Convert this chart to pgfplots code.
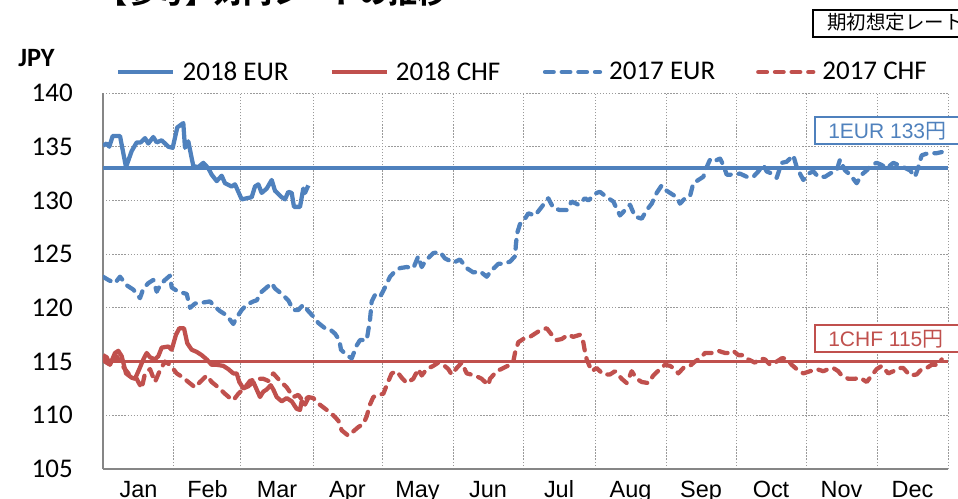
\documentclass[border=0pt]{standalone}
\usepackage{pgfplots}
\pgfplotsset{compat=1.18}
\usepackage{pgfplotstable}
\usepackage{fontspec}
\setmainfont{Carlito}
\newfontfamily\arialf{Liberation Sans}
\newfontfamily\jp{Noto Sans CJK JP}
\definecolor{eurblue}{HTML}{4F81BD}
\definecolor{chfred}{HTML}{C0504D}
\definecolor{axgray}{HTML}{868686}
\definecolor{gridgray}{HTML}{9A9A9A}

% x = horizontal position in the chart (pixels of the reference), y = JPY
\pgfplotstableread{
x y
103 135.1
106.7 135.3
109.3 135.0
112.7 136.0
120.0 136.0
126.0 133.1
131.7 134.6
136.7 135.4
140.7 135.4
145.0 135.8
148.3 135.3
153.3 135.9
156.7 135.4
161.7 135.6
168.3 135.0
172.7 134.9
177.3 136.8
183.3 137.2
185.0 134.9
188.3 135.5
193.3 133.2
198.3 133.1
203.3 133.5
208.3 133.0
211.7 132.4
216.7 131.8
221.7 132.3
225.0 131.6
231.7 131.3
235.0 131.5
241.7 130.1
246.7 130.2
251.7 130.3
255.0 131.3
258.3 131.5
261.7 130.7
266.7 131.1
271.7 131.9
275.0 130.9
281.7 130.3
285.0 130.1
288.3 130.8
291.7 130.7
294.0 129.4
300.0 129.4
303.3 131.1
305.0 130.7
308.3 131.4
}\eurA

\pgfplotstableread{
x y
103 115.6
106.7 115.4
110.0 114.7
115.0 115.8
118.3 116.0
121.7 115.5
126.0 113.9
131.7 113.5
135.0 113.4
139.3 114.3
143.3 115.2
146.7 115.8
150.0 115.4
155.0 115.2
158.3 115.5
161.7 116.3
168.3 116.4
171.7 116.1
176.0 117.5
179.3 118.1
184.0 118.1
187.3 116.7
191.7 116.1
196.7 115.9
201.7 115.6
206.7 115.2
211.7 114.7
216.7 114.7
223.3 114.6
228.3 114.3
233.3 113.9
236.7 113.9
239.3 113.1
243.3 112.5
248.3 112.7
253.3 113.1
256.7 112.4
260.0 111.7
263.3 112.2
266.7 112.4
270.7 112.8
273.3 112.4
276.7 111.7
281.7 111.3
286.7 111.6
291.7 111.3
296.7 110.6
300.0 110.5
301.7 111.3
305.0 111.0
308.3 111.6
}\chfA

\pgfplotstableread{
x y
103 122.9
108.3 122.6
115 122.3
120 122.9
126.7 122.1
133.3 121.7
140 120.9
143.3 121.8
148.3 122.3
153.3 122.6
156.7 121.5
160 122.1
165 122.6
170 123.0
171.7 121.9
178.3 121.5
186.7 121.3
190 120.0
195 120.4
203.3 120.5
210 120.6
215 120.1
220 119.7
225 119.4
230 118.9
233.3 118.5
236.7 119.1
241.7 119.8
246.7 120.3
253.3 120.6
256.7 120.7
261.7 121.5
266.7 121.9
271.7 122.3
275 121.8
281.7 121.3
288.3 120.7
293.3 119.8
298.3 119.8
303.3 120.3
308.3 119.7
313.3 119.2
318.3 118.6
325 118.1
330 118.0
335 117.6
339.3 117.0
341 116.1
346.7 115.6
351.7 115.3
356.7 116.5
360 117.0
366.7 117.0
368.3 117.9
370 118.9
371.7 120.6
375 121.2
380 121.0
385 121.9
390 122.9
395 123.4
400 123.7
406.7 123.8
413.3 123.7
418.3 124.8
421.7 123.8
425 124.3
430 124.8
433.3 125.1
440 125.2
445 124.6
451.7 124.3
453.3 124.2
460 124.5
466.7 123.7
473.3 123.3
480 123.4
486.7 122.9
491.7 123.5
498.3 124.1
503.3 124.1
510 124.3
515 124.8
516 126.0
517.3 127.0
520 127.8
525 128.3
528.3 128.8
535 128.6
541.7 129.4
548.3 130.2
553.3 129.3
560 129.1
566.7 129.1
571.7 129.9
578.3 129.6
585 130.2
588.3 130.0
596.7 130.7
600 130.8
606.7 130.3
613.3 129.9
620 128.6
625 129.1
630 129.6
635 128.5
641.7 128.3
646.7 129.1
651.7 129.7
656.7 130.7
661.7 131.4
666.7 130.9
671.7 130.6
676.7 130.3
680 129.7
685 130.2
690 130.4
693.3 131.6
698.3 131.9
703.3 132.2
706.7 133.1
710 133.8
713.3 133.6
720 133.9
723.3 133.3
726.7 132.4
733.3 132.4
740 132.5
746.7 132.2
753.3 132.2
758.3 132.7
763.3 133.3
766.7 132.7
771.7 132.5
776.7 132.1
781.7 133.5
786.7 133.6
793.3 134.2
796.7 133.1
803.3 131.9
808.3 132.5
813.3 132.7
818.3 132.2
825 132.2
830 132.5
836.7 132.8
840 133.8
845 132.8
850 132.4
856.7 131.6
861.7 132.4
866.7 132.8
871.7 133.3
876.7 133.5
881.7 133.3
886.7 133.0
893.3 133.5
898.3 133.3
903.3 133.1
910 132.8
915 132.2
918.3 133.1
921.7 134.2
928.3 134.4
936.7 134.4
941.7 134.5
}\eurB

\pgfplotstableread{
x y
103.3 115.3
105 115.0
110 114.7
116.7 115.5
120 114.9
125 114.3
130 113.7
136.7 113.4
141.7 112.5
145 113.9
150 114.3
155 113.1
160 114.2
165 115.0
170 114.7
176.7 113.9
183.3 113.5
188.3 113.1
195 112.6
200 113.1
206.7 113.7
211.7 113.1
218.3 112.6
225 112.0
230 111.6
233.3 111.4
238.3 112.0
245 112.6
250 113.2
256.7 113.4
263.3 113.4
268.3 113.2
273.3 113.9
280 113.2
286.7 112.6
293.3 111.7
298.3 111.9
303.3 111.3
308.3 111.7
313.3 111.6
318.3 111.1
326.7 110.5
333.3 110.0
338.3 109.5
341.7 108.6
348.3 108.1
353.3 108.5
358.3 108.9
363.3 109.2
366.7 109.9
370 111.0
373.3 111.7
378.3 111.9
383.3 112.0
386.7 112.8
391.7 113.9
396.7 114.1
401.7 113.5
406.7 113.0
413.3 113.4
418.3 114.3
421.7 113.7
426.7 114.3
433.3 114.6
438.3 114.9
443.3 114.7
448.3 114.3
451.7 113.8
456.7 114.4
461.7 114.9
466.7 113.9
475 113.7
481.7 113.4
488.3 112.8
490 113.4
496.7 114.1
503.3 114.4
510 114.7
513.3 115.0
515 115.8
518.3 116.8
523.3 117.1
530 117.3
535 117.6
540 117.9
546.7 118.1
551.7 117.5
556.7 117.0
561.7 117.1
568.3 117.5
573.3 117.3
580 117.5
583.3 116.8
585 115.9
586.7 115.2
591.7 114.1
596.7 114.4
603.3 113.8
610 113.8
615 114.1
621.7 113.4
626.7 113.0
631.7 114.1
636.7 113.4
641.7 113.1
648.3 113.0
653.3 113.7
660 114.3
665 114.7
670 114.6
675 114.3
678.3 113.9
683.3 114.4
690 114.6
695 115.0
700 115.3
705 115.8
711.7 115.8
718.3 116.0
725 115.8
730 115.8
733.3 116.0
738.3 115.6
743.3 115.6
748.3 115.2
755 114.9
760 115.3
765 115.2
770 114.7
775 114.9
781.7 115.3
786.7 115.3
791.7 114.7
796.7 114.3
803.3 113.9
810 114.1
816.7 114.3
823.3 114.1
828.3 114.3
833.3 114.4
838.3 114.1
841.7 113.7
848.3 113.4
855 113.4
860 113.5
866.7 113.1
871.7 113.7
876.7 114.3
881.7 114.6
888.3 113.9
893.3 114.1
898.3 114.4
903.3 114.4
910 113.7
916.7 113.8
921.7 114.3
926.7 114.4
931.7 114.7
938.3 114.7
941.7 115.2
}\chfB

\begin{document}
\begin{tikzpicture}
\useasboundingbox (0,0) rectangle (718.5pt,-374.25pt);
\begin{axis}[
  at={(77.25pt,-351.75pt)}, anchor=south west,
  scale only axis, width=633.75pt, height=282pt,
  xmin=103, xmax=948, ymin=105, ymax=140,
  axis lines=left,
  axis line style={-, draw=axgray, line width=1.5pt},
  font=\fontsize{20.25}{24}\selectfont,
  /pgf/number format/assume math mode=true,
  ytick={105,110,...,140},
  xtick={138.5,207.5,277,347.5,417.5,488,559,630.5,701,771,841.5,912.5},
  xticklabels={Jan,Feb,Mar,Apr,May,Jun,Jul,Aug,Sep,Oct,Nov,Dec},
  minor xtick={174,241,313,382,453,523,595,666,736,806,877,948},
  ymajorgrids, xminorgrids,
  grid style={draw=gridgray, line width=0.75pt, dash pattern=on 1pt off 1.3pt},
  minor grid style={draw=gridgray, line width=0.75pt, dash pattern=on 1pt off 1.3pt},
  major tick length=0pt, minor tick length=0pt,
  tick style={draw=none},
  yticklabel style={anchor=east, inner sep=0pt, xshift=-22.5pt},
  xticklabel style={anchor=base, inner sep=0pt, yshift=-21pt, font=\arialf\fontsize{17.6}{20}\selectfont},
  legend columns=4,
  legend style={at={(rel axis cs:0.0155,1.0559)}, anchor=west, draw=none, fill=none,
    inner sep=0pt, nodes={inner sep=0pt, text depth=0.15em},
    /tikz/every odd column/.append style={column sep=5.25pt},
    font=\fontsize{20.25}{24}\selectfont},
  legend image code/.code={\draw[#1] (0pt,0pt) -- (41.25pt,0pt);},
]
\addplot[eurblue, line width=2.6pt, forget plot] coordinates {(103,133) (948,133)};
\addplot[chfred, line width=2.6pt, forget plot] coordinates {(103,115) (948,115)};
\addplot[eurblue, line width=3.2pt, line join=round] table[x=x,y=y] {\eurA};
\addlegendentry{\makebox[110.25pt][l]{2018 EUR}}
\addplot[chfred, line width=3.2pt, line join=round] table[x=x,y=y] {\chfA};
\addlegendentry{\makebox[110.25pt][l]{2018 CHF}}
\addplot[eurblue, line width=3.2pt, line cap=round, line join=round, dash pattern=on 6.5pt off 6pt] table[x=x,y=y] {\eurB};
\addlegendentry{\makebox[110.25pt][l]{2017 EUR}}
\addplot[chfred, line width=3.2pt, line cap=round, line join=round, dash pattern=on 6.5pt off 6pt] table[x=x,y=y] {\chfB};
\addlegendentry{\makebox[110.25pt][l]{2017 CHF}}
\end{axis}
\begin{scope}[x=0.75pt,y=-0.75pt]
\draw[eurblue, line width=1.2pt, fill=white] (815,117) rectangle (975,144);
\node[anchor=base west, inner sep=0pt, text=eurblue, font=\arialf\fontsize{15.75}{18}\selectfont] at (828,139) {1EUR 133{\jp 円}};
\draw[chfred, line width=1.2pt, fill=white] (815,325) rectangle (975,352);
\node[anchor=base west, inner sep=0pt, text=chfred, font=\arialf\fontsize{15.75}{18}\selectfont] at (828,346.7) {1CHF 115{\jp 円}};
\draw[black, line width=1.2pt] (813,10) rectangle (975,37);
\node[anchor=base west, inner sep=0pt, font=\jp\fontsize{14.6}{17}\selectfont] at (827,30) {期初想定レート};
\node[anchor=base west, inner sep=0pt, font=\bfseries\fontsize{19.8}{24}\selectfont] at (18,67) {JPY};
\node[anchor=base west, inner sep=0pt, font=\jp\bfseries\fontsize{21.75}{24}\selectfont] at (98,4) {【参考】対円レートの推移};
\end{scope}
\end{tikzpicture}
\end{document}
